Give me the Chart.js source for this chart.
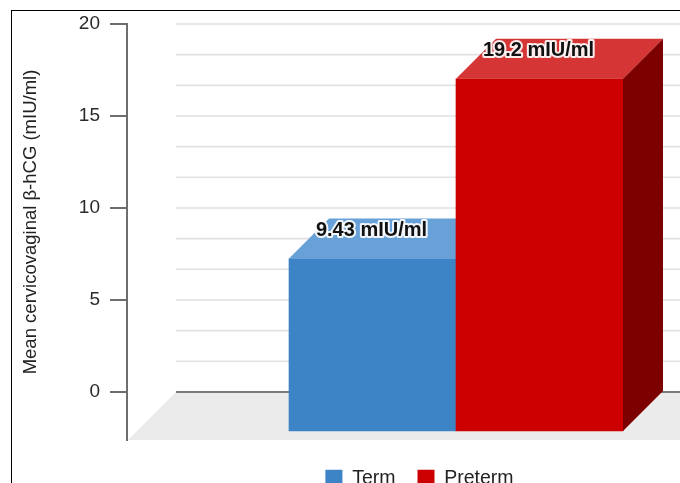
<!DOCTYPE html>
<html>
<head>
<meta charset="utf-8">
<script src="https://cdn.jsdelivr.net/npm/chart.js@4/dist/chart.umd.min.js"></script>
<style>
  html, body { margin: 0; padding: 0; background: #fff; width: 680px; height: 483px; overflow: hidden; }
  #frame { position: absolute; left: 11px; top: 10px; border-left: 1px solid #000; border-top: 1px solid #000; }
  canvas { display: block; }
</style>
</head>
<body>
<div id="frame"><canvas id="chart" width="815" height="487"></canvas></div>
<script>
// Groups and their mean cervicovaginal β-hCG (mIU/ml)
const groups = ['Term', 'Preterm'];
const meanValues = [9.43, 19.2];
const unit = 'mIU/ml';
const yTicks = [0, 5, 10, 15, 20];
const yTitle = 'Mean cervicovaginal β-hCG (mIU/ml)';

// Face colours per group: front, top, side
const frontColors = ['#3d84c6', '#cc0000'];
const topColors = ['#67a1d8', '#d53535'];
const sideColors = ['#2a5d8c', '#7d0000'];

const FONT = 'Arial, "Liberation Sans", sans-serif';
const DEPTH = 40;          // depth of the 3D boxes, px
const GRID_DIVS = 3;       // back-wall lines per labelled step

const box3d = {
  id: 'box3d',
  beforeDatasetsDraw(chart) {
    const {ctx, chartArea} = chart;
    const y = chart.scales.y;
    const backY = y.getPixelForValue(0);
    const frontY = chartArea.bottom;
    const floorDepth = frontY - backY;
    const wallLeft = chartArea.left + 11;

    ctx.save();
    // floor
    ctx.fillStyle = '#ebebeb';
    ctx.beginPath();
    ctx.moveTo(wallLeft, backY);
    ctx.lineTo(chart.width, backY);
    ctx.lineTo(chart.width, frontY);
    ctx.lineTo(wallLeft - floorDepth, frontY);
    ctx.closePath();
    ctx.fill();

    // back wall grid
    const step = (yTicks[1] - yTicks[0]) / GRID_DIVS;
    const top = yTicks[yTicks.length - 1];
    const n = Math.round(top / step);
    ctx.lineWidth = 1.6;
    ctx.strokeStyle = '#e1e1e1';
    for (let k = 1; k <= n; k++) {
      const py = y.getPixelForValue(k * step);
      ctx.beginPath();
      ctx.moveTo(wallLeft, py);
      ctx.lineTo(chartArea.right, py);
      ctx.stroke();
    }
    // baseline on the back wall
    ctx.lineWidth = 2;
    ctx.strokeStyle = '#7a7a7a';
    ctx.beginPath();
    ctx.moveTo(wallLeft, backY);
    ctx.lineTo(chartArea.right, backY);
    ctx.stroke();

    // boxes, drawn left to right
    chart.data.datasets.forEach((ds, i) => {
      const meta = chart.getDatasetMeta(i);
      meta.data.forEach(bar => {
        const {x, y: t, base, width} = bar.getProps(['x', 'y', 'base', 'width'], true);
        const l = x - width / 2, r = x + width / 2;
        // front face: the bar element itself, pushed forward
        ctx.save();
        ctx.translate(-DEPTH, DEPTH);
        bar.draw(ctx, chartArea);
        ctx.restore();
        // top face
        ctx.fillStyle = ds.topColor;
        ctx.beginPath();
        ctx.moveTo(l - DEPTH, t + DEPTH);
        ctx.lineTo(l, t);
        ctx.lineTo(r, t);
        ctx.lineTo(r - DEPTH, t + DEPTH);
        ctx.closePath();
        ctx.fill();
        // side face
        ctx.fillStyle = ds.sideColor;
        ctx.beginPath();
        ctx.moveTo(r - DEPTH, t + DEPTH);
        ctx.lineTo(r, t);
        ctx.lineTo(r, base);
        ctx.lineTo(r - DEPTH, base + DEPTH);
        ctx.closePath();
        ctx.fill();
      });
    });
    ctx.restore();
    return false;
  },
  afterDraw(chart) {
    const {ctx, chartArea} = chart;
    ctx.save();
    // value labels on the top faces
    ctx.font = 'bold 20px ' + FONT;
    ctx.textAlign = 'center';
    ctx.textBaseline = 'middle';
    ctx.lineJoin = 'round';
    chart.data.datasets.forEach((ds, i) => {
      const meta = chart.getDatasetMeta(i);
      meta.data.forEach((bar, j) => {
        const text = ds.data[j] + ' ' + unit;
        const px = bar.x - DEPTH - 1;
        const py = bar.y + 12;
        ctx.lineWidth = 4;
        ctx.strokeStyle = 'rgba(255,255,255,0.9)';
        ctx.strokeText(text, px, py);
        ctx.fillStyle = '#111';
        ctx.fillText(text, px, py);
      });
    });
    // y axis title
    ctx.font = '18.5px ' + FONT;
    ctx.fillStyle = '#222';
    ctx.translate(19, (chartArea.top + chartArea.bottom) / 2 - 10);
    ctx.rotate(-Math.PI / 2);
    ctx.fillText(yTitle, 0, 0);
    ctx.restore();
  }
};

new Chart(document.getElementById('chart'), {
  type: 'bar',
  data: {
    labels: [''],
    datasets: groups.map((g, i) => ({
      label: g,
      data: [meanValues[i]],
      backgroundColor: frontColors[i],
      topColor: topColors[i],
      sideColor: sideColors[i],
      borderWidth: 0,
      barThickness: 167
    }))
  },
  options: {
    responsive: false,
    animation: false,
    events: [],
    layout: { padding: { top: 13, left: 0, right: 0, bottom: 0 } },
    scales: {
      x: {
        display: true,
        ticks: { display: false },
        grid: { display: false, drawTicks: false },
        border: { display: false },
        afterFit: s => { s.height = 6.5; }
      },
      y: {
        position: 'left',
        weight: 1,
        min: -2.61,
        max: yTicks[yTicks.length - 1],
        afterBuildTicks: axis => {
          axis.ticks = yTicks.map(v => ({ value: v }));
        },
        ticks: {
          padding: 10,
          color: '#2a2a2a',
          font: { family: FONT, size: 19 }
        },
        grid: {
          drawOnChartArea: false,
          drawTicks: true,
          tickLength: 17,
          color: '#6e6e6e',
          lineWidth: 2
        },
        border: { display: true, color: '#6e6e6e', width: 2 },
        afterFit: s => { s.width = 115; s.paddingTop = 0; s.paddingBottom = 0; }
      },
      gap: {
        type: 'linear',
        position: 'left',
        weight: 0,
        display: true,
        ticks: { display: false },
        grid: { display: false, drawTicks: false },
        border: { display: false },
        afterFit: s => { s.width = 38; }
      }
    },
    plugins: {
      legend: {
        position: 'bottom',
        labels: {
          boxWidth: 17,
          boxHeight: 17,
          padding: 22,
          color: '#222',
          font: { family: FONT, size: 19.5 }
        }
      },
      tooltip: { enabled: false }
    }
  },
  plugins: [box3d]
});
</script>
</body>
</html>
